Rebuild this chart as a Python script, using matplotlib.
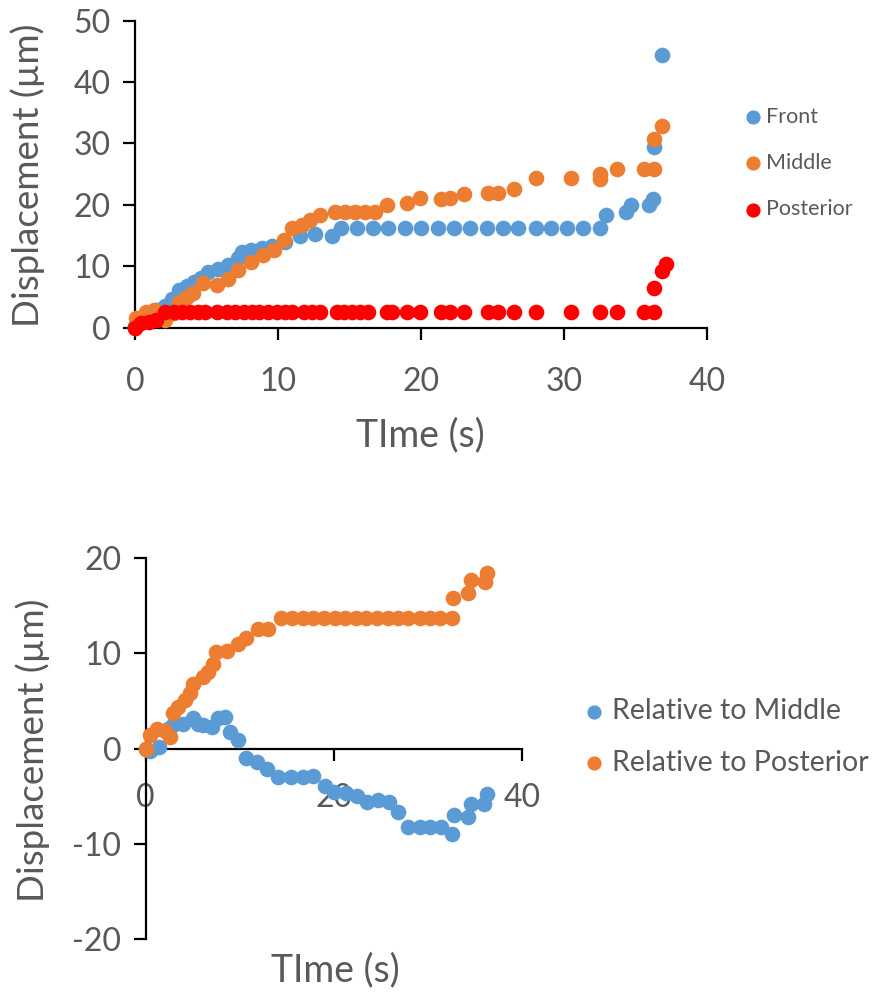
import matplotlib
matplotlib.use("Agg")
import matplotlib.pyplot as plt

plt.rcParams['font.family'] = ['Lato', 'DejaVu Sans']
plt.rcParams['axes.unicode_minus'] = False

# ---- top chart: absolute displacement ----
front_t = [0, 0.3, 0.8, 1.5, 2.1, 2.6, 3.1, 3.6, 4.1, 4.6, 5.1, 5.8, 6.5, 7.2, 7.5,
           8.1, 8.9, 9.6, 10.5, 11.5, 12.6, 13.8, 14.4, 15.5, 16.6, 17.7, 18.9, 20.0,
           21.2, 22.3, 23.4, 24.6, 25.7, 26.8, 28.0, 29.1, 30.2, 31.3, 32.5, 32.9,
           34.3, 34.7, 35.9, 36.2, 36.3, 36.8]
front_v = [0.2, 1.4, 2.3, 2.9, 3.6, 4.6, 6.1, 6.8, 7.4, 8.1, 9.0, 9.6, 10.2, 11.3, 12.3,
           12.6, 12.9, 13.3, 13.9, 14.9, 15.2, 15.0, 16.2, 16.2, 16.2, 16.2, 16.2, 16.2,
           16.2, 16.2, 16.2, 16.2, 16.2, 16.2, 16.2, 16.2, 16.2, 16.2, 16.2, 18.4,
           18.8, 20.0, 20.0, 21.0, 29.5, 44.4]

mid_t = [0, 0.1, 0.8, 1.3, 2.1, 2.7, 3.1, 3.6, 4.05, 4.75, 5.7, 6.5, 7.2, 8.1, 8.95,
         9.7, 10.4, 10.95, 11.65, 12.2, 12.9, 14.0, 14.7, 15.4, 16.1, 16.8, 17.6, 19.0,
         19.9, 21.4, 22.0, 23.0, 24.7, 25.4, 26.5, 28.0, 30.5, 32.5, 32.5, 33.7, 35.6,
         36.3, 36.3, 36.8]
mid_v = [0, 1.5, 2.6, 2.8, 1.25, 2.4, 4.2, 5.0, 5.6, 7.2, 6.95, 8.0, 9.4, 10.75, 11.8,
         12.6, 14.3, 16.2, 16.7, 17.5, 18.3, 18.9, 18.9, 18.9, 18.9, 18.9, 20.0, 20.3,
         21.1, 21.0, 21.2, 21.8, 21.9, 21.9, 22.6, 24.3, 24.3, 25.1, 24.2, 25.8, 25.8,
         25.8, 30.8, 32.8]

post_t = [0, 0.45, 1.0, 1.5, 2.1, 2.7, 3.3, 3.85, 4.4, 4.9, 5.7, 6.4, 7.0, 7.6, 8.2,
          8.7, 9.3, 9.9, 10.5, 10.95, 11.8, 12.4, 12.9, 14.1, 14.6, 15.15, 15.7, 16.3,
          17.6, 17.95, 19.0, 19.9, 21.4, 22.0, 23.0, 24.7, 25.4, 26.5, 28.0, 30.5,
          32.5, 33.7, 35.6, 36.3, 36.3, 36.8, 37.1]
post_v = [0, 0.7, 1.0, 1.25, 2.5, 2.5, 2.5, 2.5, 2.5, 2.5, 2.5, 2.5, 2.5, 2.5, 2.5,
          2.5, 2.5, 2.5, 2.5, 2.5, 2.5, 2.5, 2.5, 2.5, 2.5, 2.5, 2.5, 2.5,
          2.5, 2.5, 2.5, 2.5, 2.5, 2.5, 2.5, 2.5, 2.5, 2.5, 2.5, 2.5,
          2.5, 2.5, 2.5, 2.5, 6.4, 9.3, 10.3]

# ---- bottom chart: relative displacement ----
rel_mid_t = [0, 0.45, 1.4, 2.4, 2.9, 4.0, 5.05, 5.6, 6.1, 7.0, 7.7, 8.4, 8.95, 9.8,
             10.7, 11.8, 12.85, 14.1, 15.4, 16.7, 17.8, 19.0, 20.0, 21.3, 22.4, 23.5,
             24.7, 25.8, 26.8, 27.9, 29.1, 30.2, 31.4, 32.5, 32.7, 34.2, 34.6, 35.9, 36.3]
rel_mid_v = [0, -0.2, 0.2, 2.1, 2.5, 2.6, 3.2, 2.6, 2.45, 2.3, 3.2, 3.3, 1.75, 0.9,
             -0.95, -1.4, -2.1, -3.0, -3.0, -3.0, -2.9, -3.9, -4.6, -4.7, -5.0, -5.6,
             -5.4, -5.6, -6.7, -8.25, -8.25, -8.25, -8.25, -8.95, -7.0, -7.2, -5.8, -5.8, -4.8]

rel_post_t = [0, 0.45, 1.2, 2.0, 2.6, 2.9, 3.4, 4.2, 4.7, 5.05, 6.1, 6.65, 7.2, 7.5,
              8.6, 9.8, 10.7, 11.95, 13.0, 14.4, 15.5, 16.7, 17.8, 18.9, 20.1, 21.2,
              22.3, 23.4, 24.6, 25.7, 26.8, 27.9, 29.1, 30.2, 31.3, 32.5, 32.65, 34.2,
              34.6, 36.0, 36.2]
rel_post_v = [0, 1.4, 2.1, 1.9, 1.2, 3.7, 4.4, 5.1, 5.8, 6.8, 7.5, 8.0, 8.9, 10.2,
              10.3, 11.0, 11.6, 12.6, 12.6, 13.7, 13.7, 13.7, 13.7, 13.7, 13.7, 13.7,
              13.7, 13.7, 13.7, 13.7, 13.7, 13.7, 13.7, 13.7, 13.7, 13.7, 15.8, 16.3,
              17.7, 17.5, 18.5]

blue = '#5B9BD5'
orange = '#ED7D31'
red = '#FF0000'
grey = '#595959'
msize = 105

fig = plt.figure(figsize=(8.83, 9.93), dpi=100)

# top chart
ax1 = fig.add_axes([0.1529, 0.670, 0.6481, 0.3092])
ax1.scatter(front_t, front_v, s=msize, color=blue, label='Front', clip_on=False, zorder=3)
ax1.scatter(mid_t, mid_v, s=msize, color=orange, label='Middle', clip_on=False, zorder=3)
ax1.scatter(post_t, post_v, s=msize, color=red, label='Posterior', clip_on=False, zorder=3)
ax1.set_xlim(0, 40)
ax1.set_ylim(0, 50)
ax1.set_xticks([0, 10, 20, 30, 40])
ax1.set_yticks([0, 10, 20, 30, 40, 50])
ax1.set_xlabel('TIme (s)', fontsize=27, color=grey)
ax1.set_ylabel('Displacement (µm)', fontsize=26.5, color=grey)
ax1.xaxis.set_label_coords(0.498, -0.35)
ax1.xaxis.label.set_va('center')
ax1.yaxis.set_label_coords(-0.187, 0.497)
ax1.yaxis.label.set_va('center')
ax1.legend(loc='upper left', bbox_to_anchor=(1.05, 0.755), frameon=False, fontsize=15.5,
           labelcolor=grey, handlelength=0.6, handletextpad=0.3, labelspacing=1.22,
           borderpad=0, markerscale=0.9)

# bottom chart
ax2 = fig.add_axes([0.165, 0.0544, 0.4265, 0.3834])
ax2.scatter(rel_mid_t, rel_mid_v, s=msize, color=blue, label='Relative to Middle',
            clip_on=False, zorder=3)
ax2.scatter(rel_post_t, rel_post_v, s=msize, color=orange, label='Relative to Posterior',
            clip_on=False, zorder=3)
ax2.set_xlim(0, 40)
ax2.set_ylim(-20, 20)
ax2.set_xticks([0, 20, 40])
ax2.set_yticks([-20, -10, 0, 10, 20])
ax2.spines['bottom'].set_position(('data', 0))
ax2.set_xlabel('TIme (s)', fontsize=27, color=grey)
ax2.set_ylabel('Displacement (µm)', fontsize=26.5, color=grey)
ax2.xaxis.set_label_coords(0.503, -0.081)
ax2.xaxis.label.set_va('center')
ax2.yaxis.set_label_coords(-0.299, 0.496)
ax2.yaxis.label.set_va('center')
ax2.legend(loc='upper left', bbox_to_anchor=(1.135, 0.67), frameon=False, fontsize=20.5,
           labelcolor=grey, handlelength=0.5, handletextpad=0.35, labelspacing=0.9,
           borderpad=0, markerscale=0.9)

for ax in (ax1, ax2):
    for side in ('top', 'right'):
        ax.spines[side].set_visible(False)
    for side in ('left', 'bottom'):
        ax.spines[side].set_linewidth(1.6)
    ax.tick_params(direction='out', length=8.5, width=1.6, colors='black',
                   labelcolor=grey, labelsize=23)
ax1.tick_params(axis='x', pad=20)
ax1.tick_params(axis='y', pad=9)
ax2.tick_params(axis='x', pad=16)
ax2.tick_params(axis='y', pad=9)

fig.savefig('out.png', dpi=100)
